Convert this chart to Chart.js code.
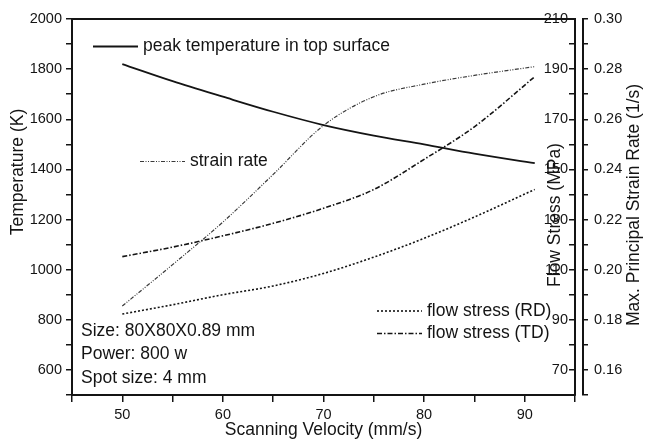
<!DOCTYPE html>
<html>
<head>
<meta charset="utf-8">
<script src="https://cdn.jsdelivr.net/npm/chart.js@4.4.0/dist/chart.umd.min.js"></script>
<style>
  html, body { margin: 0; padding: 0; background: #fff; }
  #wrap { width: 645px; height: 445px; }
</style>
</head>
<body>
<div id="wrap"><canvas id="myChart" width="645" height="445"></canvas></div>
<script>
// scanning velocity (mm/s)
const velocity = [50, 55, 60, 65, 70, 75, 80, 85, 91]
// peak temperature in top surface (K)
const peak_temperature = [1820, 1752, 1690, 1630, 1577, 1535, 1500, 1463, 1425]
// max. principal strain rate (1/s)
const strain_rate = [0.1855, 0.202, 0.219, 0.238, 0.2575, 0.269, 0.274, 0.2775, 0.281]
// flow stress (MPa)
const flow_stress_rd = [92.3, 96, 100, 103.5, 108.5, 115, 122.5, 131, 142]
const flow_stress_td = [115.2, 119, 123.5, 128.5, 134.5, 142, 154, 167, 187]

const notes = ['Size: 80X80X0.89 mm', 'Power: 800 w', 'Spot size: 4 mm']

const ink = '#141414'
const font_family = '"Liberation Sans", Arial, Helvetica, sans-serif'
const tick_font = { family: font_family, size: 14.5 }

function pairs(ys) {
    return velocity.map((v, i) => ({ x: v, y: ys[i] }))
}

function series(label, ys, axis, dash, width, color) {
    return {
        label: label,
        data: pairs(ys),
        yAxisID: axis,
        borderColor: color,
        borderWidth: width,
        borderDash: dash,
        pointRadius: 0,
        fill: false,
        cubicInterpolationMode: 'monotone'
    }
}

const datasets = [
    series('peak temperature in top surface', peak_temperature, 'y', [], 1.8, ink),
    series('strain rate', strain_rate, 'y_rate', [4, 1.5, 1, 1.5, 1, 1.5], 1.2, '#3a3a3a'),
    series('flow stress (RD)', flow_stress_rd, 'y_flow', [2, 2], 1.6, ink),
    series('flow stress (TD)', flow_stress_td, 'y_flow', [5, 2, 1.5, 2], 1.6, ink)
]

function axis_base() {
    return {
        type: 'linear',
        grid: { drawOnChartArea: false, drawTicks: true, tickLength: 6, color: ink, lineWidth: 1.5 },
        border: { display: true, color: ink, width: 2 },
        ticks: { font: tick_font, color: ink, autoSkip: false, maxRotation: 0 }
    }
}

const x_axis = axis_base()
x_axis.position = 'bottom'
x_axis.min = 45
x_axis.max = 95
x_axis.grid.tickLength = 7
x_axis.ticks.stepSize = 5
x_axis.ticks.padding = 4
x_axis.ticks.callback = v => (v % 10 === 0 && v > 45 && v < 95) ? v : ''
x_axis.afterFit = s => { s.height = 50 }

const temp_axis = axis_base()
temp_axis.position = 'left'
temp_axis.min = 500
temp_axis.max = 2000
temp_axis.ticks.stepSize = 100
temp_axis.ticks.padding = 4
temp_axis.ticks.callback = v => (v % 200 === 0 && v > 500) ? v : ''
temp_axis.afterFit = s => { s.width = 72 }

// flow stress axis sits on the right frame, labels inside the plot
const flow_axis = axis_base()
flow_axis.position = 'right'
flow_axis.weight = 0
flow_axis.min = 60
flow_axis.max = 210
flow_axis.grid.tickLength = -6
flow_axis.ticks.stepSize = 10
flow_axis.ticks.mirror = true
flow_axis.ticks.padding = -7
flow_axis.ticks.callback = v => (v % 20 === 10 && v > 60) ? v : ''
flow_axis.afterFit = s => { s.width = 8 }

const rate_axis = axis_base()
rate_axis.position = 'right'
rate_axis.weight = 1
rate_axis.min = 0.15
rate_axis.max = 0.30
rate_axis.grid.tickLength = 5
rate_axis.ticks.stepSize = 0.01
rate_axis.ticks.padding = 6
rate_axis.ticks.callback = v => {
    const h = Math.round(v * 100)
    return (h % 2 === 0 && h > 15) ? (h / 100).toFixed(2) : ''
}
rate_axis.afterFit = s => { s.width = 62 }

// legend samples, notes, axis titles and the top frame line
const decorations = {
    id: 'decorations',
    afterDraw(chart) {
        const ctx = chart.ctx
        const area = chart.chartArea
        ctx.save()

        ctx.strokeStyle = ink
        ctx.lineWidth = 2
        ctx.beginPath()
        ctx.moveTo(area.left - 1, area.top)
        ctx.lineTo(area.right + 1, area.top)
        ctx.stroke()

        ctx.font = '17.5px ' + font_family
        ctx.fillStyle = ink
        ctx.textBaseline = 'middle'
        ctx.textAlign = 'left'

        const keys = [
            { ds: 0, x: 93, y: 46.5, len: 45 },
            { ds: 1, x: 140, y: 161.5, len: 45 },
            { ds: 2, x: 377, y: 311, len: 45 },
            { ds: 3, x: 377, y: 333.5, len: 45 }
        ]
        keys.forEach(k => {
            const d = chart.data.datasets[k.ds]
            ctx.save()
            ctx.strokeStyle = d.borderColor
            ctx.lineWidth = d.borderWidth
            ctx.setLineDash(d.borderDash)
            ctx.beginPath()
            ctx.moveTo(k.x, k.y)
            ctx.lineTo(k.x + k.len, k.y)
            ctx.stroke()
            ctx.restore()
            ctx.fillText(d.label, k.x + k.len + 5, k.y)
        })

        notes.forEach((t, i) => ctx.fillText(t, 81, 331 + i * 23.5))

        // axis titles
        ctx.textAlign = 'center'
        ctx.fillText('Scanning Velocity (mm/s)', (area.left + area.right) / 2, 430)

        const vertical = (text, x, y) => {
            ctx.save()
            ctx.translate(x, y)
            ctx.rotate(-Math.PI / 2)
            ctx.fillText(text, 0, 0)
            ctx.restore()
        }
        vertical('Temperature (K)', 18, 172)
        vertical('Flow Stress (MPa)', 555, 215)
        vertical('Max. Principal Strain Rate (1/s)', 634, 205)

        ctx.restore()
    }
}

new Chart(document.getElementById('myChart'), {
    type: 'line',
    data: { datasets: datasets },
    options: {
        responsive: false,
        animation: false,
        layout: { padding: { top: 19, left: 0, right: 0, bottom: 0 } },
        scales: {
            x: x_axis,
            y: temp_axis,
            y_flow: flow_axis,
            y_rate: rate_axis
        },
        plugins: {
            legend: { display: false },
            tooltip: { enabled: false }
        }
    },
    plugins: [decorations]
})
</script>
</body>
</html>
